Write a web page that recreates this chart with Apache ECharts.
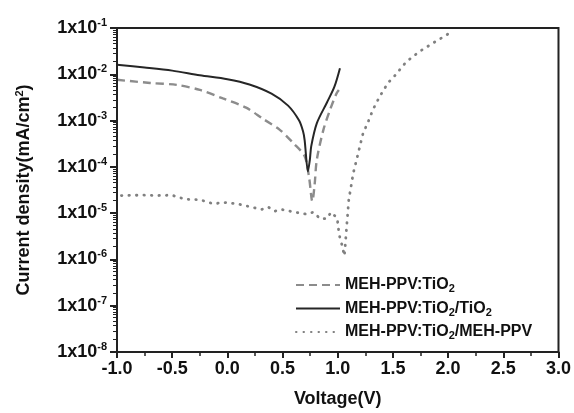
<!DOCTYPE html>
<html>
<head>
<meta charset="utf-8">
<script src="https://cdn.jsdelivr.net/npm/echarts@6/dist/echarts.min.js"></script>
<style>html,body{margin:0;padding:0;background:#fff}#c{width:574px;height:413px}</style>
</head>
<body>
<div id="c"></div>
<script>
// Series 1: MEH-PPV:TiO2 (dashed)
const vDashed = [-1.0, -0.7, -0.46, -0.25, -0.04, 0.17, 0.32, 0.475, 0.595, 0.70, 0.74, 0.77, 0.79, 0.81, 0.87, 0.93, 0.99, 1.01];
const jDashed = [7.6e-3, 6.5e-3, 5.9e-3, 4.6e-3, 3.0e-3, 1.9e-3, 1.1e-3, 6.3e-4, 3.3e-4, 1.7e-4, 6e-5, 1.8e-5, 4e-5, 1.4e-4, 6.3e-4, 1.7e-3, 3.9e-3, 4.6e-3];
// Series 2: MEH-PPV:TiO2/TiO2 (solid)
const vSolid = [-1.0, -0.75, -0.5, -0.25, 0.0, 0.2, 0.4, 0.55, 0.65, 0.686, 0.70, 0.73, 0.747, 0.76, 0.81, 0.90, 0.97, 1.02];
const jSolid = [1.6e-2, 1.4e-2, 1.2e-2, 9.5e-3, 7.8e-3, 6.0e-3, 3.8e-3, 2.1e-3, 1.0e-3, 5.8e-4, 3.8e-4, 8e-5, 1.4e-4, 2.8e-4, 8.7e-4, 2.4e-3, 5.4e-3, 1.35e-2];
// Series 3: MEH-PPV:TiO2/MEH-PPV (dotted)
const vDotted = [-0.96, -0.76, -0.64, -0.505, -0.385, -0.25, -0.13, -0.01, 0.11, 0.31, 0.37, 0.43, 0.49, 0.656, 0.72, 0.78, 0.84, 0.90, 0.94, 0.995, 1.01, 1.02, 1.04, 1.06, 1.07, 1.08, 1.09, 1.10, 1.12, 1.14, 1.17, 1.20, 1.23, 1.27, 1.32, 1.38, 1.455, 1.52, 1.62, 1.74, 1.88, 2.00];
const jDotted = [2.4e-5, 2.45e-5, 2.4e-5, 2.45e-5, 2.0e-5, 1.95e-5, 1.6e-5, 1.7e-5, 1.55e-5, 1.2e-5, 1.35e-5, 1.1e-5, 1.2e-5, 1.0e-5, 9.5e-6, 1.05e-5, 7.6e-6, 7.6e-6, 1.05e-5, 7.8e-6, 3.9e-6, 2.9e-6, 2.0e-6, 1.2e-6, 2.3e-6, 4.9e-6, 9.5e-6, 1.95e-5, 3.7e-5, 7.2e-5, 1.4e-4, 2.75e-4, 5.4e-4, 8.7e-4, 1.75e-3, 3.3e-3, 6.5e-3, 9.5e-3, 1.85e-2, 3.1e-2, 5.0e-2, 7.4e-2];

const seriesNames = ['MEH-PPV:TiO2', 'MEH-PPV:TiO2/TiO2', 'MEH-PPV:TiO2/MEH-PPV'];
const legendRich = [
  '{t|MEH-PPV:TiO}{s|2}',
  '{t|MEH-PPV:TiO}{s|2}{t|/TiO}{s|2}',
  '{t|MEH-PPV:TiO}{s|2}{t|/MEH-PPV}'
];
const xMin = -1, xMax = 3, xStep = 0.5;
const yMin = 1e-8, yMax = 1e-1;

const zip = (a, b) => a.map((v, i) => [v, b[i]]);
const FONT = '"Liberation Sans", Arial, sans-serif';
const AX = '#222';

const chart = echarts.init(document.getElementById('c'), null, {renderer: 'canvas'});
chart.setOption({
  animation: false,
  backgroundColor: '#fff',
  grid: {left: 117, right: 15, top: 28, bottom: 61, show: true, borderColor: AX, borderWidth: 2, containLabel: false},
  legend: {
    orient: 'vertical', left: 290, top: 272, itemGap: 6, itemWidth: 44, itemHeight: 14,
    data: seriesNames,
    itemStyle: {opacity: 0, borderWidth: 0},
    formatter: (n) => legendRich[seriesNames.indexOf(n)],
    textStyle: {
      fontFamily: FONT, fontWeight: 'bold', fontSize: 16, color: '#111',
      rich: {
        t: {fontFamily: FONT, fontWeight: 'bold', fontSize: 16, color: '#111'},
        s: {fontFamily: FONT, fontWeight: 'bold', fontSize: 11, color: '#111', verticalAlign: 'bottom', padding: [8, 0, 0, 0]}
      }
    }
  },
  xAxis: {
    type: 'value', min: xMin, max: xMax, interval: xStep, z: 10,
    name: 'Voltage(V)', nameLocation: 'middle', nameGap: 38,
    nameTextStyle: {fontFamily: FONT, fontWeight: 'bold', fontSize: 18, color: '#111'},
    axisLine: {show: true, onZero: false, lineStyle: {color: AX, width: 2}},
    axisTick: {show: true, inside: false, length: 6, lineStyle: {color: AX, width: 2}},
    minorTick: {show: true, splitNumber: 2, length: 4, lineStyle: {color: AX, width: 1.5}},
    splitLine: {show: false},
    axisLabel: {fontFamily: FONT, fontWeight: 'bold', fontSize: 18, color: '#111', margin: 8,
      formatter: (v) => v.toFixed(1)}
  },
  yAxis: {
    type: 'log', logBase: 10, min: yMin, max: yMax, z: 10,
    name: 'Current density(mA/cm{sup|2})', nameLocation: 'middle', nameGap: 82,
    nameTextStyle: {fontFamily: FONT, fontWeight: 'bold', fontSize: 18, color: '#111',
      rich: {sup: {fontFamily: FONT, fontWeight: 'bold', fontSize: 11, color: '#111', verticalAlign: 'top', padding: [0, 0, 10, 0]}}},
    axisLine: {show: true, onZero: false, lineStyle: {color: AX, width: 2}},
    axisTick: {show: true, inside: false, length: 7, lineStyle: {color: AX, width: 2}},
    minorTick: {show: true, splitNumber: 10, length: 4, lineStyle: {color: AX, width: 1}},
    splitLine: {show: false},
    minorSplitLine: {show: false},
    axisLabel: {
      fontFamily: FONT, fontWeight: 'bold', fontSize: 18, color: '#111', margin: 10,
      formatter: (v) => '{b|1x10}{e|' + Math.round(Math.log10(v)) + '}',
      rich: {
        b: {fontFamily: FONT, fontWeight: 'bold', fontSize: 18, color: '#111'},
        e: {fontFamily: FONT, fontWeight: 'bold', fontSize: 11, color: '#111', verticalAlign: 'top', padding: [0, 0, 10, 0]}
      }
    }
  },
  series: [
    {name: seriesNames[0], type: 'line', data: zip(vDashed, jDashed), showSymbol: false, symbol: 'none', smooth: 0.3,
      lineStyle: {color: '#8c8c8c', width: 2.4, type: [8, 5]}, itemStyle: {color: '#8c8c8c'}},
    {name: seriesNames[1], type: 'line', data: zip(vSolid, jSolid), showSymbol: false, symbol: 'none', smooth: 0.3,
      lineStyle: {color: '#262626', width: 2}, itemStyle: {color: '#262626'}},
    {name: seriesNames[2], type: 'line', data: zip(vDotted, jDotted), showSymbol: false, symbol: 'none',
      lineStyle: {color: '#808080', width: 2.8, type: [0.5, 7], cap: 'round'}, itemStyle: {color: '#808080'}}
  ]
});
</script>
</body>
</html>
